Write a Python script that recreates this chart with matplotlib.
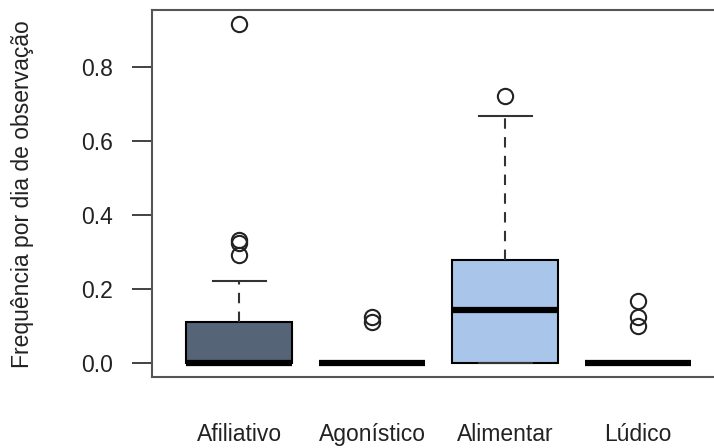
import matplotlib
matplotlib.use("Agg")
import matplotlib.pyplot as plt

plt.rcParams['font.family'] = ['Liberation Sans', 'DejaVu Sans']

categories = ["Afiliativo", "Agonístico", "Alimentar", "Lúdico"]
q1 = [0.0, 0.0, 0.0, 0.0]
median = [0.0, 0.0, 0.143, 0.0]
q3 = [0.111, 0.0, 0.278, 0.0]
whisker_low = [0.0, 0.0, 0.0, 0.0]
whisker_high = [0.222, 0.0, 0.667, 0.0]
outliers = [
    [0.916, 0.333, 0.325, 0.292],
    [0.125, 0.111],
    [0.722],
    [0.167, 0.125, 0.100],
]
box_colors = ["#566478", "#ffffff", "#a9c6ea", "#ffffff"]
yticks = [0.0, 0.2, 0.4, 0.6, 0.8]
ytick_labels = ["0.0", "0.2", "0.4", "0.6", "0.8"]
ylabel = "Frequência por dia de observação"

W, H = 714, 448
fig = plt.figure(figsize=(W / 100, H / 100), dpi=100)
left, right, top, bottom = 151.5, 726.0, 10.5, 377.0
ax = fig.add_axes([left / W, (H - bottom) / H, (right - left) / W, (bottom - top) / H])

stats = []
for i, name in enumerate(categories):
    stats.append(dict(label=name, med=median[i], q1=q1[i], q3=q3[i],
                      whislo=whisker_low[i], whishi=whisker_high[i],
                      fliers=outliers[i]))

positions = list(range(1, len(categories) + 1))
res = ax.bxp(stats, positions=positions, widths=0.8, patch_artist=True,
             showfliers=True,
             boxprops=dict(edgecolor="black", linewidth=1.5),
             medianprops=dict(color="black", linewidth=4.5, solid_capstyle="butt"),
             whiskerprops=dict(color="#333333", linewidth=1.5, linestyle=(0, (5, 4))),
             capprops=dict(color="#333333", linewidth=1.5),
             capwidths=0.4,
             flierprops=dict(marker="o", markerfacecolor="none",
                             markeredgecolor="#222222", markersize=11,
                             markeredgewidth=1.5, linestyle="none"))
for patch, c in zip(res["boxes"], box_colors):
    patch.set_facecolor(c)

fs = 16.5
ax.set_xlim(0.34, 4.66)
ax.set_ylim(-0.0375, 0.953)
ax.set_yticks(yticks)
ax.set_yticklabels(ytick_labels)
ax.set_xticks(positions)
ax.set_xticklabels(categories)
ax.tick_params(axis="y", length=14.4, width=1.3, pad=13.5, labelsize=fs,
               colors="#333333", labelcolor="#222222")
ax.tick_params(axis="x", length=0, pad=33, labelsize=fs, labelcolor="#222222")
for s in ax.spines.values():
    s.set_color("#555555")
    s.set_linewidth(1.5)
ax.set_ylabel(ylabel, fontsize=fs, color="#222222")
ax.yaxis.set_label_coords((34 - left) / (right - left), (bottom - 194) / (bottom - top))

fig.savefig("out.png", dpi=100)
